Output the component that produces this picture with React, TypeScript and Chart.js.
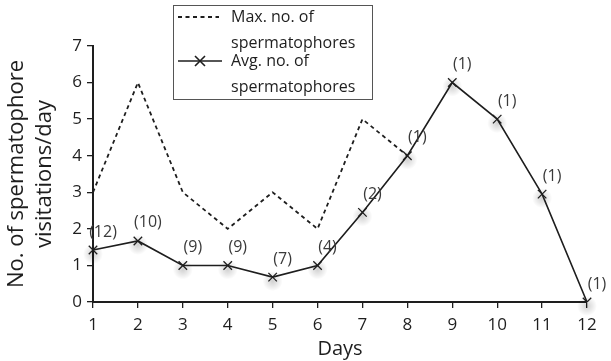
import React, { useEffect, useRef } from "react";
import { Chart, registerables } from "chart.js";

Chart.register(...registerables);

const days = ["1", "2", "3", "4", "5", "6", "7", "8", "9", "10", "11", "12"];
const maxSpermatophores = [3, 6, 3, 2, 3, 2, 5, 4, null, null, null, null];
const avgSpermatophores = [1.42, 1.67, 1, 1, 0.68, 1, 2.45, 4, 6, 5, 2.95, 0];
const sampleSizes = ["(12)", "(10)", "(9)", "(9)", "(7)", "(4)", "(2)", "(1)", "(1)", "(1)", "(1)", "(1)"];
const yTicks = [0, 1, 2, 3, 4, 5, 6, 7];
const legendMax = ["Max. no. of", "spermatophores"];
const legendAvg = ["Avg. no. of", "spermatophores"];
const yTitle = ["No. of spermatophore", "visitations/day"];
const xTitle = "Days";

const FONT = "'Open Sans', Lato, sans-serif";
const INK = "#1e1e1e";

const glowPlugin = {
  id: "markerGlow",
  beforeDatasetsDraw(chart: any) {
    const meta = chart.getDatasetMeta(1);
    const ctx = chart.ctx;
    ctx.save();
    meta.data.forEach((pt: any) => {
      const cx = pt.x, cy = pt.y + 4;
      const g = ctx.createRadialGradient(cx, cy, 0, cx, cy, 10);
      g.addColorStop(0, "rgba(0,0,0,0.18)");
      g.addColorStop(1, "rgba(0,0,0,0)");
      ctx.fillStyle = g;
      ctx.beginPath();
      ctx.arc(cx, cy, 10, 0, Math.PI * 2);
      ctx.fill();
    });
    ctx.restore();
  },
};

const pointLabelPlugin = {
  id: "pointLabels",
  afterDatasetsDraw(chart: any) {
    const meta = chart.getDatasetMeta(1);
    const ctx = chart.ctx;
    ctx.save();
    ctx.font = `16px ${FONT}`;
    ctx.fillStyle = "#3a3a3a";
    ctx.textAlign = "center";
    ctx.textBaseline = "middle";
    meta.data.forEach((pt: any, i: number) => {
      ctx.fillText(sampleSizes[i], pt.x + 10, pt.y - 18);
    });
    ctx.restore();
  },
};

const legendPlugin = {
  id: "boxLegend",
  afterDraw(chart: any) {
    const ctx = chart.ctx;
    const x0 = 173, y0 = 5, w = 199, h = 94;
    ctx.save();
    ctx.fillStyle = "#fff";
    ctx.fillRect(x0, y0, w, h);
    ctx.strokeStyle = "#555";
    ctx.lineWidth = 1;
    ctx.strokeRect(x0 + 0.5, y0 + 0.5, w, h);
    ctx.strokeStyle = INK;
    ctx.lineWidth = 1.8;
    ctx.setLineDash([4, 3.5]);
    ctx.beginPath();
    ctx.moveTo(178, 17);
    ctx.lineTo(219, 17);
    ctx.stroke();
    ctx.setLineDash([]);
    ctx.lineWidth = 1.6;
    ctx.beginPath();
    ctx.moveTo(178, 61);
    ctx.lineTo(222, 61);
    ctx.stroke();
    ctx.beginPath();
    ctx.moveTo(195, 56);
    ctx.lineTo(205, 66);
    ctx.moveTo(205, 56);
    ctx.lineTo(195, 66);
    ctx.stroke();
    ctx.fillStyle = INK;
    ctx.font = `16px ${FONT}`;
    ctx.textAlign = "left";
    ctx.textBaseline = "middle";
    ctx.fillText(legendMax[0], 231, 17);
    ctx.fillText(legendMax[1], 231, 43);
    ctx.fillText(legendAvg[0], 231, 61);
    ctx.fillText(legendAvg[1], 231, 87);
    ctx.restore();
  },
};

export default function App() {
  const ref = useRef<HTMLCanvasElement>(null);
  useEffect(() => {
    document.body.style.margin = "0";
    const chart = new Chart(ref.current!, {
      type: "line",
      data: {
        labels: days,
        datasets: [
          {
            label: "Max. no. of spermatophores",
            data: maxSpermatophores,
            borderColor: INK,
            borderWidth: 1.8,
            borderDash: [4, 3.5],
            pointRadius: 0,
            fill: false,
            tension: 0,
          },
          {
            label: "Avg. no. of spermatophores",
            data: avgSpermatophores,
            borderColor: INK,
            borderWidth: 1.6,
            pointStyle: "crossRot",
            pointRadius: 6,
            pointBorderColor: INK,
            pointBorderWidth: 1.3,
            fill: false,
            tension: 0,
          },
        ],
      },
      options: {
        animation: false,
        responsive: false,
        layout: { padding: { top: 46, right: 24, left: 0, bottom: 0 } },
        plugins: { legend: { display: false }, tooltip: { enabled: false } },
        scales: {
          x: {
            offset: false,
            grid: { drawOnChartArea: false, drawTicks: true, tickLength: 6, color: INK, lineWidth: 1.3 },
            border: { display: true, color: INK, width: 2 },
            ticks: { color: INK, font: { family: FONT, size: 17 }, padding: 7, maxRotation: 0 },
            title: { display: true, text: xTitle, color: INK, font: { family: FONT, size: 20 }, padding: { top: 0, bottom: 0 } },
            afterFit(scale: any) {
              scale.height = 59;
            },
          },
          y: {
            min: 0,
            max: 7,
            afterBuildTicks(scale: any) {
              scale.ticks = yTicks.map((v) => ({ value: v }));
            },
            grid: { drawOnChartArea: false, drawTicks: true, tickLength: 6, color: INK, lineWidth: 1.3 },
            border: { display: true, color: INK, width: 2 },
            ticks: { color: INK, font: { family: FONT, size: 17 }, padding: 5 },
            title: { display: true, text: yTitle, color: INK, font: { family: FONT, size: 22, lineHeight: 1.3 }, padding: { top: 2, bottom: 2 } },
            afterFit(scale: any) {
              scale.width = 93;
            },
          },
        },
      },
      plugins: [glowPlugin, pointLabelPlugin, legendPlugin],
    });
    return () => chart.destroy();
  }, []);
  return (
    <div style={{ position: "absolute", left: 0, top: 0, width: 611, height: 361 }}>
      <canvas ref={ref} width={611} height={361} />
    </div>
  );
}
